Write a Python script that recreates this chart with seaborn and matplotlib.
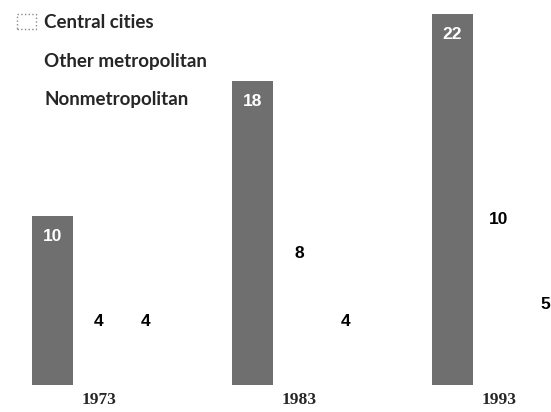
import matplotlib
matplotlib.use("Agg")
import matplotlib.pyplot as plt
import seaborn as sns
import pandas as pd

years = ["1973", "1983", "1993"]
series = ["Central cities", "Other metropolitan", "Nonmetropolitan"]
central = [10, 18, 22]
other_metro = [4, 8, 10]
nonmetro = [4, 4, 5]

df = pd.DataFrame({
    "year": years * 3,
    "area": [s for s in series for _ in years],
    "value": central + other_metro + nonmetro,
})

sns.set_style("white")
plt.rcParams["font.family"] = ["Lato", "DejaVu Sans"]

fig = plt.figure(figsize=(5.51, 4.12), dpi=100)
ax = fig.add_axes([0.0, 27 / 412, 1.0, 385 / 412])

palette = {"Central cities": "#6f6f6f", "Other metropolitan": "white", "Nonmetropolitan": "white"}
sns.barplot(data=df, x="year", y="value", hue="area", hue_order=series,
            order=years, palette=palette, width=0.7, gap=0.11,
            saturation=1, ax=ax, edgecolor="none")

ax.set_xlim(-0.495, 2.26)
ax.set_ylim(0, 22.83)
for s in ax.spines.values():
    s.set_visible(False)
ax.set_yticks([])
ax.set_xlabel("")
ax.set_ylabel("")
ax.tick_params(axis="x", length=0, pad=5)
for t in ax.get_xticklabels():
    t.set_fontfamily(["Liberation Serif", "DejaVu Serif"])
    t.set_fontweight("bold")
    t.set_fontsize(12.5)

conts = ax.containers
lab_font = ["Liberation Sans", "DejaVu Sans"]
ax.bar_label(conts[0], labels=[str(v) for v in central], label_type="edge",
             padding=-20, color="white", fontsize=12.5, fontweight="bold",
             fontfamily=lab_font)
ax.bar_label(conts[1], labels=[str(v) for v in other_metro], label_type="edge",
             padding=-8, color="black", fontsize=12.5, fontweight="bold",
             fontfamily=lab_font)
ax.bar_label(conts[2], labels=[str(v) for v in nonmetro], label_type="edge",
             padding=-8, color="black", fontsize=12.5, fontweight="bold",
             fontfamily=lab_font)

handles, labels = ax.get_legend_handles_labels()
ax.get_legend().remove()
leg = fig.legend(handles, labels, loc="upper left", bbox_to_anchor=(0.0, 1.008),
                 frameon=False, labelspacing=1.15, handlelength=1.0,
                 handleheight=0.9, handletextpad=0.45,
                 prop={"family": ["Lato", "DejaVu Sans"], "weight": "bold", "size": 13.5})
for i, h in enumerate(leg.legend_handles):
    h.set_facecolor("white")
    if i == 0:
        h.set_edgecolor("#888888")
        h.set_linestyle(":")
        h.set_linewidth(1)
    else:
        h.set_edgecolor("none")

fig.savefig("out.png", dpi=100)
